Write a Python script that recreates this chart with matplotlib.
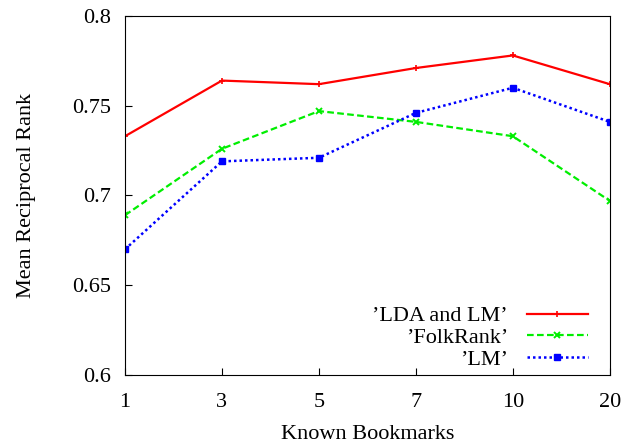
import numpy as np
import matplotlib.pyplot as plt

plt.rcParams['font.family'] = ['Liberation Serif', 'DejaVu Serif']

# x categories (evenly spaced on the axis)
known = ['1', '3', '5', '7', '10', '20']

# mean reciprocal rank per method
lda_lm   = [0.733, 0.764, 0.762, 0.771, 0.778, 0.762]
folkrank = [0.689, 0.726, 0.747, 0.741, 0.733, 0.697]
lm       = [0.670, 0.719, 0.721, 0.746, 0.760, 0.741]

q = '\u2019'
names = [q + 'LDA and LM' + q, q + 'FolkRank' + q, q + 'LM' + q]

x = np.arange(len(known))

fig = plt.figure(figsize=(6.28, 4.43), dpi=100)
ax = fig.add_axes([0.199, 0.1535, 0.772, 0.8105])

ax.plot(x, lda_lm, color='#ff0000', ls='-', lw=1.6, marker='+', ms=5,
        mew=1.2, label=names[0])
ax.plot(x, folkrank, color='#00ee00', ls=(0, (3, 1.5)), lw=1.6, marker='x',
        ms=4, mew=1.4, label=names[1])
ax.plot(x, lm, color='#0000ff', ls=(0, (1, 1.2)), lw=1.8, marker='s', ms=4,
        label=names[2])

ax.set_xlim(0, len(known) - 1)
ax.set_ylim(0.6, 0.8)
ax.set_xticks(x)
ax.set_xticklabels(known)
ax.set_yticks([0.6, 0.65, 0.7, 0.75, 0.8])
ax.set_yticklabels(['0.6', '0.65', '0.7', '0.75', '0.8'])
ax.tick_params(direction='in', length=5, labelsize=16, pad=10)
ax.tick_params(axis='x', pad=13)

ax.set_xlabel('Known Bookmarks', fontsize=16, labelpad=9)
ax.set_ylabel('Mean Reciprocal Rank', fontsize=16, labelpad=26)

# key in the lower right corner, labels right-aligned before the samples
ax.legend(loc='lower right', bbox_to_anchor=(0.955, 0.015),
          markerfirst=False, frameon=False, fontsize=16,
          handlelength=2.75, labelspacing=0.05, borderaxespad=0,
          borderpad=0, handletextpad=0.85)

fig.savefig('out.png', dpi=100)
